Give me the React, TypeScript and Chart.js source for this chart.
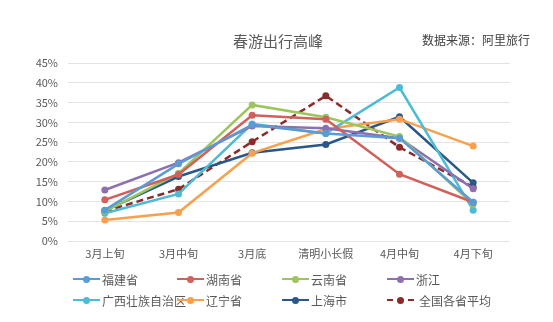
import React, { useEffect, useRef } from "react";
import { Chart, registerables } from "chart.js";

Chart.register(...registerables);

const categories = ["3月上旬", "3月中旬", "3月底", "清明小长假", "4月中旬", "4月下旬"];
const yTicks = [0, 5, 10, 15, 20, 25, 30, 35, 40, 45];

const fujian = [7.8, 19.5, 29.4, 27.2, 26.0, 9.8];
const hunan = [10.4, 16.8, 31.8, 30.8, 16.9, 9.8];
const yunnan = [7.5, 17.1, 34.4, 31.3, 26.4, 9.3];
const zhejiang = [12.9, 19.8, 29.1, 28.5, 26.0, 13.2];
const guangxi = [7.0, 11.9, 29.6, 27.2, 38.8, 7.8];
const liaoning = [5.3, 7.2, 22.2, 28.3, 30.8, 24.0];
const shanghai = [7.7, 16.3, 22.3, 24.4, 31.4, 14.7];
const national = [7.5, 13.1, 25.1, 36.7, 23.7, 13.6];

const seriesNames = ["福建省", "湖南省", "云南省", "浙江", "广西壮族自治区", "辽宁省", "上海市", "全国各省平均"];
const seriesColors = ["#5B9BD5", "#D0605C", "#9DC55E", "#8C70B0", "#4DBBD5", "#F8A04C", "#2B5788", "#8B2C2C"];
const seriesData = [fujian, hunan, yunnan, zhejiang, guangxi, liaoning, shanghai, national];

const FONT = '"Noto Sans CJK SC", "Noto Sans", sans-serif';

export default function App() {
  const ref = useRef<HTMLCanvasElement>(null);

  useEffect(() => {
    document.body.style.margin = "0";
    const ctx = ref.current!;
    const chart = new Chart(ctx, {
      type: "line",
      data: {
        labels: categories,
        datasets: seriesData.map((d, i) => ({
          label: seriesNames[i],
          data: d,
          borderColor: seriesColors[i],
          backgroundColor: seriesColors[i],
          borderWidth: 2.5,
          pointRadius: 3.5,
          pointBorderWidth: 0,
          pointBackgroundColor: seriesColors[i],
          borderDash: i === 7 ? [7, 4] : [],
          tension: 0,
          fill: false,
        })),
      },
      options: {
        responsive: false,
        animation: false,
        layout: { padding: { left: 0, right: 43, top: 63, bottom: 50 } },
        plugins: {
          legend: { display: false },
          title: { display: false },
          tooltip: { enabled: false },
        },
        scales: {
          x: {
            offset: true,
            grid: { display: false, drawTicks: false },
            border: { display: false },
            ticks: { color: "#595959", font: { family: FONT, size: 11 }, padding: 6, maxRotation: 0 },
            afterFit: (s: any) => { s.height = 31; },
          },
          y: {
            min: 0,
            max: 45,
            afterBuildTicks: (s: any) => { s.ticks = yTicks.map((v) => ({ value: v })); },
            grid: { color: "#E3E3E3", lineWidth: 1, drawTicks: false },
            border: { display: false },
            ticks: {
              color: "#595959",
              font: { family: FONT, size: 11 },
              padding: 10,
              callback: (v: any) => v + "%",
            },
            afterFit: (s: any) => { s.width = 68; },
          },
        },
      },
    });
    return () => chart.destroy();
  }, []);

  const colX = [73, 177, 282, 387];
  const rowY = [279, 300];

  return (
    <div style={{ position: "relative", width: 553, height: 322, background: "#fff", fontFamily: FONT }}>
      <canvas ref={ref} width={553} height={322} style={{ position: "absolute", left: 0, top: 0 }} />
      <div style={{ position: "absolute", left: 0, width: 556, top: 31, textAlign: "center", fontSize: 15, color: "#595959", lineHeight: "20px" }}>
        春游出行高峰
      </div>
      <div style={{ position: "absolute", left: 422, top: 31, fontSize: 12, color: "#404040", lineHeight: "18px", whiteSpace: "nowrap" }}>
        数据来源：阿里旅行
      </div>
      {seriesNames.map((name, i) => {
        const x = colX[i % 4];
        const y = rowY[Math.floor(i / 4)];
        const c = seriesColors[i];
        const dashed = i === 7;
        return (
          <div key={name} style={{ position: "absolute", left: x, top: y - 9, height: 18, display: "flex", alignItems: "center", whiteSpace: "nowrap" }}>
            <div style={{ position: "relative", width: 27, height: 18 }}>
              <div style={{ position: "absolute", left: 0, top: 8, width: 27, height: 0, borderTop: dashed ? `2.5px dashed ${c}` : `2.5px solid ${c}` }} />
              <div style={{ position: "absolute", left: 10, top: 6, width: 7, height: 7, borderRadius: "50%", background: c }} />
            </div>
            <span style={{ marginLeft: dashed ? 5 : 2, fontSize: 12, color: "#595959" }}>{name}</span>
          </div>
        );
      })}
    </div>
  );
}
